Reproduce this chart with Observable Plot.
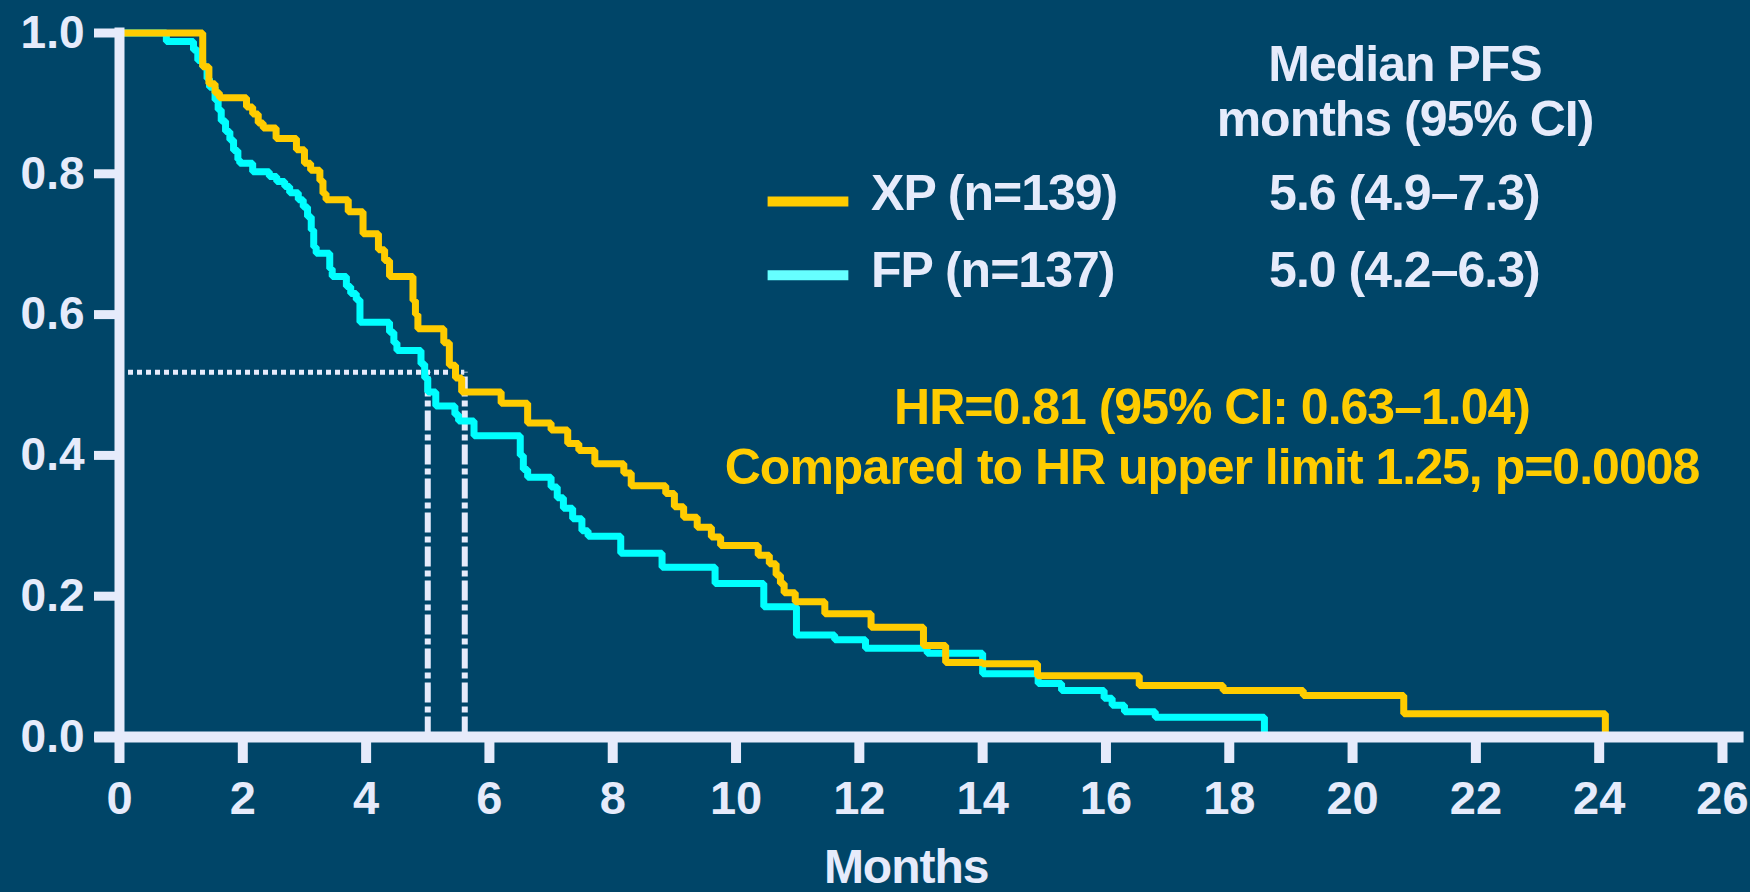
<!DOCTYPE html>
<html>
<head>
<meta charset="utf-8">
<script src="https://cdn.jsdelivr.net/npm/d3@7"></script>
<script src="https://cdn.jsdelivr.net/npm/@observablehq/plot@0.6"></script>
<style>
  html, body { margin: 0; padding: 0; background: #004568; }
  #chart svg { display: block; }
</style>
</head>
<body>
<div id="chart"></div>
<script>
// Kaplan–Meier progression-free survival, XP vs FP
const xTicks = [0, 2, 4, 6, 8, 10, 12, 14, 16, 18, 20, 22, 24, 26];
const yTicks = [0, 0.2, 0.4, 0.6, 0.8, 1.0];

// XP arm: event times (months) and survival after each step
const xpTime = [0, 1.35, 1.45, 1.55, 1.62, 2.06, 2.16, 2.25, 2.33, 2.54, 2.87, 3.00, 3.10, 3.25, 3.30, 3.35,
  3.71, 3.95, 4.20, 4.30, 4.38, 4.76, 4.80, 4.84, 5.26, 5.35, 5.45, 5.55, 6.19, 6.62, 7.00, 7.27, 7.45,
  7.71, 8.18, 8.30, 8.86, 9.00, 9.15, 9.37, 9.60, 9.75, 10.36, 10.54, 10.65, 10.72, 10.78, 10.96, 11.44,
  12.19, 13.04, 13.40, 14.00, 14.89, 16.54, 17.90, 19.20, 20.83, 24.10];
const xpSurv = [1.0, 0.952, 0.928, 0.915, 0.908, 0.895, 0.885, 0.872, 0.865, 0.850, 0.834, 0.815, 0.805, 0.790, 0.772, 0.763,
  0.746, 0.715, 0.692, 0.677, 0.654, 0.620, 0.600, 0.580, 0.560, 0.528, 0.510, 0.490, 0.474, 0.446, 0.436, 0.417, 0.407,
  0.388, 0.375, 0.357, 0.346, 0.327, 0.312, 0.298, 0.284, 0.272, 0.258, 0.246, 0.230, 0.218, 0.205, 0.192, 0.175,
  0.156, 0.130, 0.106, 0.104, 0.087, 0.073, 0.066, 0.059, 0.033, 0.0];

// FP arm
const fpTime = [0, 0.76, 1.20, 1.27, 1.35, 1.42, 1.46, 1.55, 1.60, 1.65, 1.72, 1.79, 1.85, 1.92, 1.95, 2.16,
  2.43, 2.55, 2.68, 2.76, 2.90, 2.98, 3.05, 3.11, 3.15, 3.19, 3.41, 3.45, 3.68, 3.75, 3.84, 3.90, 4.38,
  4.45, 4.50, 4.89, 4.95, 5.00, 5.13, 5.44, 5.50, 5.75, 6.50, 6.55, 6.62, 7.00, 7.10, 7.20, 7.35, 7.50,
  7.60, 8.13, 8.80, 9.66, 10.45, 10.98, 11.60, 12.10, 13.10, 14.00, 14.90, 15.28, 15.97, 16.10, 16.30,
  16.80, 18.57];
const fpSurv = [1.0, 0.988, 0.976, 0.961, 0.952, 0.935, 0.923, 0.905, 0.891, 0.875, 0.860, 0.848, 0.833, 0.820, 0.815, 0.803,
  0.796, 0.789, 0.782, 0.773, 0.763, 0.753, 0.739, 0.720, 0.696, 0.687, 0.665, 0.654, 0.640, 0.630, 0.621, 0.589, 0.575,
  0.560, 0.549, 0.530, 0.510, 0.490, 0.470, 0.458, 0.449, 0.428, 0.400, 0.380, 0.369, 0.355, 0.340, 0.325, 0.310, 0.293,
  0.285, 0.261, 0.241, 0.218, 0.185, 0.145, 0.138, 0.126, 0.119, 0.090, 0.076, 0.066, 0.055, 0.045, 0.036,
  0.028, 0.0];

// Median PFS (months) per arm, and the survival level of the median guide
const armNames = ["XP (n=139)", "FP (n=137)"];
const medianPFS = [5.6, 5.0];
const medianLevel = 0.518;
const medianText = ["5.6 (4.9\u20137.3)", "5.0 (4.2\u20136.3)"];
const hrText = ["HR=0.81 (95% CI: 0.63\u20131.04)", "Compared to HR upper limit 1.25, p=0.0008"];
const headerText = ["Median PFS", "months (95% CI)"];
const xLabel = "Months";

// styling
const bg = "#004568";
const ink = "#e6ebfb";
const xpColor = "#ffcc00";
const fpColor = "#00ffff";
const fpSwatch = "#66ffff";
const font = "'Liberation Sans', Arial, Helvetica, sans-serif";

const xpRows = xpTime.map((t, i) => ({t, s: xpSurv[i]}));
const fpRows = fpTime.map((t, i) => ({t, s: fpSurv[i]}));

// annotation anchors in data units
const legendRows = [
  {label: armNames[0], med: medianText[0], swatch: xpColor, y: 0.7607, ty: 0.748},
  {label: armNames[1], med: medianText[1], swatch: fpSwatch, y: 0.656, ty: 0.6385}
];
const headerRows = [{text: headerText[0], y: 0.9325}, {text: headerText[1], y: 0.853}];
const hrRows = [{text: hrText[0], y: 0.4453}, {text: hrText[1], y: 0.360}];

const textBase = {fontFamily: font, fontWeight: "bold", fontSize: 50, lineAnchor: "bottom"};

const chart = Plot.plot({
  width: 1750,
  height: 892,
  marginLeft: 119,
  marginRight: 28,
  marginTop: 32.5,
  marginBottom: 155.5,
  style: {background: bg, fontFamily: font, fontWeight: "bold", color: ink},
  x: {domain: [0, 26]},
  y: {domain: [0, 1]},
  marks: [
    // median guides
    Plot.ruleY([medianLevel], {x1: 0, x2: medianPFS[0], stroke: ink, strokeWidth: 5, strokeDasharray: "5,4"}),
    Plot.ruleX(medianPFS, {x: d => d, y1: 0, y2: medianLevel, stroke: ink, strokeWidth: 6, strokeDasharray: "20,4,6,4"}),
    // survival curves
    Plot.line(fpRows, {x: "t", y: "s", curve: "step-after", stroke: fpColor, strokeWidth: 7,
      strokeLinejoin: "miter", strokeLinecap: "butt"}),
    Plot.line(xpRows, {x: "t", y: "s", curve: "step-after", stroke: xpColor, strokeWidth: 7,
      strokeLinejoin: "miter", strokeLinecap: "butt"}),
    // axes
    Plot.axisY(yTicks, {tickSize: 25, tickPadding: 10, strokeWidth: 9, color: ink, fontSize: 46,
      fontWeight: "bold", tickFormat: d => d.toFixed(1), label: null}),
    Plot.axisX(xTicks, {tickSize: 26.5, tickPadding: 17, strokeWidth: 10, color: ink, fontSize: 47,
      fontWeight: "bold", label: null}),
    Plot.ruleX([0], {y1: 0, y2: 1, stroke: ink, strokeWidth: 10, strokeLinecap: "square"}),
    Plot.ruleY([0], {x1: -0.4, x2: 26.35, stroke: ink, strokeWidth: 11}),
    Plot.text([xLabel], {x: 12.76, y: -0.207, text: d => d, fill: ink, textAnchor: "middle", ...textBase, fontSize: 48}),
    // legend and medians table
    Plot.ruleY(legendRows, {x1: 10.52, x2: 11.83, y: "y", stroke: "swatch", strokeWidth: 10}),
    Plot.text(legendRows, {x: 12.19, y: "ty", text: "label", fill: ink, textAnchor: "start", ...textBase}),
    Plot.text(legendRows, {x: 20.84, y: "ty", text: "med", fill: ink, textAnchor: "middle", ...textBase}),
    Plot.text(headerRows, {x: 20.85, y: "y", text: "text", fill: ink, textAnchor: "middle", ...textBase}),
    // hazard ratio note
    Plot.text(hrRows, {x: 17.72, y: "y", text: "text", fill: xpColor, textAnchor: "middle", ...textBase})
  ]
});

// tighter tracking for the annotation text
d3.select(chart).selectAll("g[aria-label='text'] text").style("letter-spacing", "-1px");

document.getElementById("chart").append(chart);
</script>
</body>
</html>
